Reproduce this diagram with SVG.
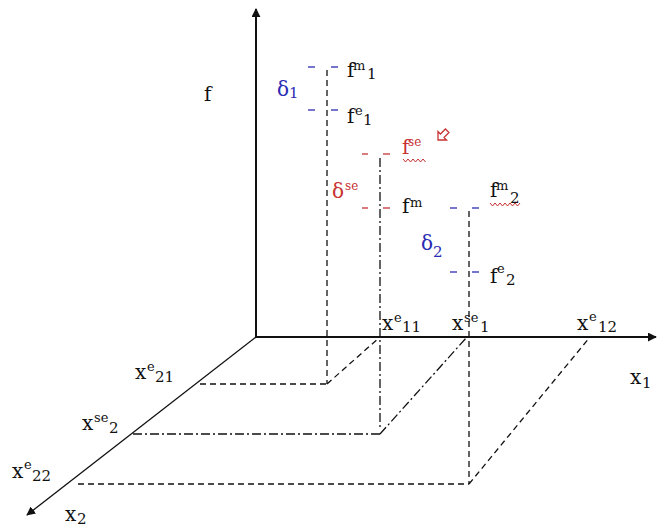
<svg xmlns="http://www.w3.org/2000/svg" width="657" height="529" viewBox="0 0 657 529">
<defs>
<marker id="ah" viewBox="0 0 10 10" refX="9" refY="5" markerWidth="9" markerHeight="9" markerUnits="userSpaceOnUse" orient="auto">
<path d="M0,0 L10,5 L0,10 z" fill="#111"/>
</marker>
</defs>
<style>
.t{font-family:"DejaVu Serif","Liberation Serif",serif;fill:#111}
.m{font-size:20px}
.s{font-size:15px}
.p{font-size:13px}
.q{font-size:12px}
.blue{fill:#2a2ab4}
.red{fill:#c83232}
.ax{stroke:#111;fill:none}
.da{stroke:#111;stroke-width:1.3;fill:none;stroke-dasharray:6 4}
.dd{stroke:#111;stroke-width:1.3;fill:none;stroke-dasharray:9 3 2 3}
.tb{stroke:#2a2ab4;stroke-width:1.3}
.tr{stroke:#c83232;stroke-width:1.3}
.wv{stroke:#c83232;stroke-width:1;fill:none}
</style>
<rect width="657" height="529" fill="#fff"/>

<g id="axes">
<line class="ax" x1="256" y1="337" x2="256" y2="9" stroke-width="2" marker-end="url(#ah)"/>
<line class="ax" x1="256" y1="337" x2="656" y2="337" stroke-width="2" marker-end="url(#ah)"/>
<line class="ax" x1="256" y1="337" x2="27" y2="515" stroke-width="1.3" marker-end="url(#ah)"/>
</g>

<g id="connectors">
<line class="da" x1="327" y1="70" x2="327" y2="384"/>
<line class="da" x1="200" y1="384" x2="327" y2="384"/>
<line class="da" x1="327" y1="384" x2="380" y2="337"/>
<line class="dd" x1="380" y1="158" x2="380" y2="430"/>
<line class="dd" x1="133" y1="434" x2="380" y2="434"/>
<line class="dd" x1="380" y1="434" x2="467" y2="337"/>
<line class="da" x1="469" y1="211" x2="469" y2="484"/>
<line class="da" x1="78" y1="484" x2="469" y2="484"/>
<line class="da" x1="469" y1="484" x2="590" y2="337"/>
</g>

<g id="ticks">
<line class="tb" x1="308" y1="67" x2="315" y2="67"/><line class="tb" x1="331" y1="67" x2="338" y2="67"/>
<line class="tb" x1="308" y1="110" x2="315" y2="110"/><line class="tb" x1="331" y1="110" x2="338" y2="110"/>
<line class="tr" x1="362" y1="154" x2="368" y2="154"/><line class="tr" x1="383" y1="154" x2="390" y2="154"/>
<line class="tr" x1="362" y1="208" x2="368" y2="208"/><line class="tr" x1="383" y1="208" x2="390" y2="208"/>
<line class="tb" x1="450" y1="208" x2="457" y2="208"/><line class="tb" x1="472" y1="208" x2="479" y2="208"/>
<line class="tb" x1="450" y1="272" x2="457" y2="272"/><line class="tb" x1="472" y1="272" x2="479" y2="272"/>
</g>

<g id="label-f"><text class="t m" x="204" y="101">f</text></g>
<g id="delta1"><text class="t m blue" x="277" y="96">δ</text><text class="t s blue" x="289" y="98">1</text></g>
<g id="fm1"><text class="t m" x="347" y="77">f</text><text class="t p" x="353" y="70">m</text><text class="t s" x="367" y="79">1</text></g>
<g id="fe1"><text class="t m" x="347" y="123">f</text><text class="t p" x="355" y="115">e</text><text class="t s" x="363" y="125">1</text></g>
<g id="fse"><text class="t m red" x="402" y="154">f</text><text class="t q red" x="408" y="146">se</text>
<path class="wv" d="M403,159 l2.5,3 l2.5,-3 l2.5,3 l2.5,-3 l2.5,3 l2.5,-3 l2.5,3 l2.5,-3 l2.5,3"/>
<path d="M0,0 L6,-6 L6,-2.5 L13,-2.5 L13,2.5 L6,2.5 L6,6 z" transform="translate(438,140) rotate(-45)" fill="#fff" stroke="#c83232" stroke-width="1.3"/>
</g>
<g id="deltase"><text class="t m red" x="332" y="198">δ</text><text class="t q red" x="345" y="190">se</text></g>
<g id="fm"><text class="t m" x="402" y="213">f</text><text class="t p" x="410" y="207">m</text></g>
<g id="fm2"><text class="t m" x="490" y="197">f</text><text class="t p" x="496" y="190">m</text><text class="t s" x="510" y="203">2</text>
<path class="wv" d="M490,203 l2.5,3 l2.5,-3 l2.5,3 l2.5,-3 l2.5,3 l2.5,-3 l2.5,3 l2.5,-3 l2.5,3 l2.5,-3 l2.5,3 l2.5,-3"/>
</g>
<g id="delta2"><text class="t m blue" x="421" y="250">δ</text><text class="t s blue" x="433" y="257">2</text></g>
<g id="fe2"><text class="t m" x="490" y="283">f</text><text class="t p" x="497" y="273">e</text><text class="t s" x="506" y="285">2</text></g>

<g id="xe11"><text class="t m" x="382" y="330">x</text><text class="t p" x="394" y="322">e</text><text class="t s" x="402" y="332">11</text></g>
<g id="xse1"><text class="t m" x="452" y="330">x</text><text class="t p" x="464" y="322">se</text><text class="t s" x="480" y="332">1</text></g>
<g id="xe12"><text class="t m" x="577" y="330">x</text><text class="t p" x="589" y="321">e</text><text class="t s" x="598" y="332">12</text></g>
<g id="x1"><text class="t m" x="630" y="384">x</text><text class="t s" x="642" y="388">1</text></g>
<g id="xe21"><text class="t m" x="135" y="379">x</text><text class="t p" x="147" y="371">e</text><text class="t s" x="155" y="382">21</text></g>
<g id="xse2"><text class="t m" x="82" y="430">x</text><text class="t p" x="94" y="422">se</text><text class="t s" x="109" y="433">2</text></g>
<g id="xe22"><text class="t m" x="12" y="478">x</text><text class="t p" x="24" y="469">e</text><text class="t s" x="32" y="481">22</text></g>
<g id="x2"><text class="t m" x="65" y="521">x</text><text class="t s" x="77" y="524">2</text></g>
</svg>
